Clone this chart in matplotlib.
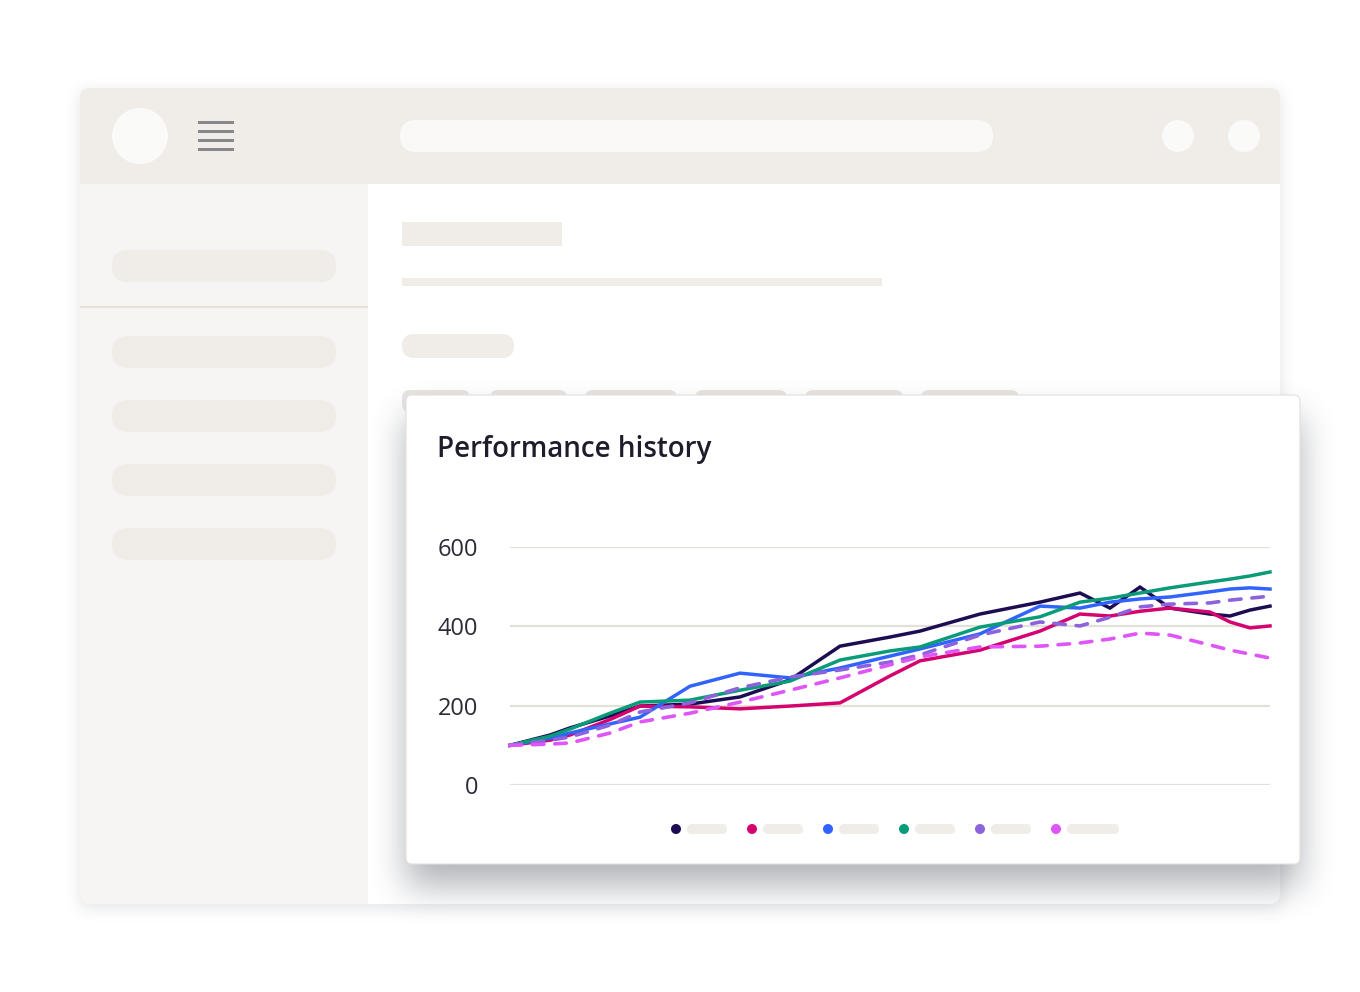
import numpy as np
import matplotlib
matplotlib.use("Agg")
import matplotlib.pyplot as plt
from matplotlib.patches import FancyBboxPatch, Rectangle, Circle

# data
weeks = [0, 2, 3, 5, 6.5, 9, 11.5, 14, 16.5, 19, 20.5, 23.5, 26.5, 28.5,
         30, 31.5, 33, 35, 36, 37, 38]
series_navy = [100, 126, 144, 174, 199, 204, 222, 265, 350, 373, 388, 431,
               461, 484, 446, 499, 446, 431, 426, 441, 451]
series_pink = [100, 113, 126, 165, 199, 197, 192, 199, 207, 275, 313, 340,
               388, 431, 426, 438, 446, 436, 411, 396, 401]
series_blue = [100, 118, 131, 154, 171, 249, 282, 270, 295, 325, 343, 381,
               451, 446, 461, 469, 474, 487, 494, 497, 494]
series_green = [100, 123, 141, 181, 209, 214, 239, 262, 315, 338, 348, 398,
                424, 461, 471, 484, 497, 512, 519, 527, 537]
series_purple = [100, 113, 121, 151, 184, 207, 245, 272, 290, 310, 328, 378,
                 411, 401, 423, 449, 456, 459, 466, 471, 476]
series_magenta = [100, 103, 106, 131, 159, 181, 209, 239, 270, 303, 323, 348,
                  350, 358, 368, 383, 378, 353, 340, 330, 320]
y_ticks = [0, 200, 400, 600]
title = "Performance history"

colors = ["#1c0c52", "#d4036f", "#3164ff", "#0a9c78", "#8d63dd", "#df56f8"]
dashed = [False, False, False, False, True, True]

W, H = 1360, 992
UI = "#f0ece8"
UI_LIGHT = "#f6f5f3"


def box_blur(a, r, passes=3):
    k = np.ones(2 * r + 1) / (2 * r + 1)
    for _ in range(passes):
        a = np.apply_along_axis(lambda m: np.convolve(m, k, mode="same"), 0, a)
        a = np.apply_along_axis(lambda m: np.convolve(m, k, mode="same"), 1, a)
    return a


def shadow(ax, x0, y0, x1, y1, dy, r, strength, z, rgb=(0.33, 0.36, 0.40)):
    pad = 3 * 3 * r
    mask = np.zeros((H + 2 * pad, W + 2 * pad))
    mask[int(y0 + dy) + pad:int(y1 + dy) + pad, int(x0) + pad:int(x1) + pad] = 1.0
    mask = box_blur(mask, r)[pad:pad + H, pad:pad + W]
    img = np.zeros((H, W, 4))
    img[..., :3] = rgb
    img[..., 3] = np.clip(mask * strength, 0, 1)
    ax.imshow(img, extent=(0, W, H, 0), zorder=z, interpolation="bilinear")


def pill(ax, x0, y0, x1, y1, color, z=3, rounding=None):
    h = y1 - y0
    rs = h / 2 if rounding is None else rounding
    p = FancyBboxPatch((x0, y0), x1 - x0, h,
                       boxstyle=f"round,pad=0,rounding_size={rs}",
                       facecolor=color, edgecolor="none", zorder=z)
    ax.add_patch(p)
    return p


fig = plt.figure(figsize=(W / 100, H / 100), dpi=100)
fig.patch.set_facecolor("white")
bg = fig.add_axes([0, 0, 1, 1], zorder=0)
bg.set_xlim(0, W)
bg.set_ylim(H, 0)
bg.axis("off")

# browser window
shadow(bg, 80, 88, 1280, 904, 4, 7, 0.16, 1)
win = pill(bg, 80, 88, 1280, 904, UI, z=2, rounding=10)
for rect in [Rectangle((80, 184), 288, 720, facecolor=UI_LIGHT, edgecolor="none", zorder=2.5),
             Rectangle((368, 184), 912, 720, facecolor="white", edgecolor="none", zorder=2.5)]:
    bg.add_patch(rect)
    rect.set_clip_path(win)
bg.plot([80, 368], [307, 307], color="#e6e0d8", lw=1.5, zorder=3, solid_capstyle="butt")

# header
bg.add_patch(Circle((140, 136), 28, facecolor="#fafaf9", edgecolor="none", zorder=3))
for yy in [122, 131, 140, 149]:
    bg.add_patch(Rectangle((198, yy - 1.5), 36, 3, facecolor="#88878c",
                           edgecolor="none", zorder=3))
pill(bg, 400, 120, 993, 152, "#faf9f8")
bg.add_patch(Circle((1178, 136), 16, facecolor="#fafaf9", edgecolor="none", zorder=3))
bg.add_patch(Circle((1244, 136), 16, facecolor="#fafaf9", edgecolor="none", zorder=3))

# sidebar
for y0 in [250, 336, 400, 464, 528]:
    pill(bg, 112, y0, 336, y0 + 32, UI)

# page content
bg.add_patch(Rectangle((402, 222), 160, 24, facecolor=UI, edgecolor="none", zorder=3))
bg.add_patch(Rectangle((402, 278), 480, 8, facecolor=UI, edgecolor="none", zorder=3))
pill(bg, 402, 334, 514, 358, UI)
for x0, x1 in [(402, 470), (490, 567), (585, 677), (695, 787), (805, 903), (921, 1019)]:
    pill(bg, x0, 390, x1, 412, "#e8e4e0", rounding=8)

# card
shadow(bg, 406, 395, 1300, 864, 22, 16, 0.46, 4)
card = FancyBboxPatch((406, 395), 894, 469, boxstyle="round,pad=0,rounding_size=6",
                      facecolor="white", edgecolor="#e4e0db", lw=0.8, zorder=5)
bg.add_patch(card)
bg.text(437, 457, title, fontsize=20, family="Open Sans", fontweight="semibold",
        color="#1e1d2c", va="baseline", ha="left", zorder=6)

# legend (placeholder labels)
legend_x = [676, 752, 828, 904, 980, 1056]
legend_w = [40, 40, 40, 40, 40, 52]
for c, lx, lw in zip(colors, legend_x, legend_w):
    bg.add_patch(Circle((lx, 829), 5, facecolor=c, edgecolor="none", zorder=6))
    pill(bg, lx + 11, 824, lx + 11 + lw, 834, UI, z=6)

# chart
ax = fig.add_axes([510 / W, (H - 785) / H, 760 / W, 238 / H], zorder=1)
ax.patch.set_alpha(0)
for s in ax.spines.values():
    s.set_visible(False)
ax.set_xlim(0, 38)
ax.set_ylim(0, 600)
ax.set_xticks([])
ax.set_yticks(y_ticks)
ax.set_yticklabels([str(t) for t in y_ticks], family="Open Sans")
ax.tick_params(axis="y", length=0, pad=23, labelsize=17, labelcolor="#2b2b38")
for t in y_ticks:
    ax.axhline(t, color="#e3dfd9", lw=1.6, zorder=1)

all_series = [series_navy, series_pink, series_blue, series_green,
              series_purple, series_magenta]
for vals, c, d in zip(all_series, colors, dashed):
    if d:
        ax.plot(weeks, vals, color=c, lw=2.6, dashes=(3.2, 3.0),
                dash_capstyle="round", clip_on=False, zorder=3)
    else:
        ax.plot(weeks, vals, color=c, lw=2.5, solid_joinstyle="miter",
                clip_on=False, zorder=2)

fig.savefig("out.png", dpi=100, facecolor="white")
